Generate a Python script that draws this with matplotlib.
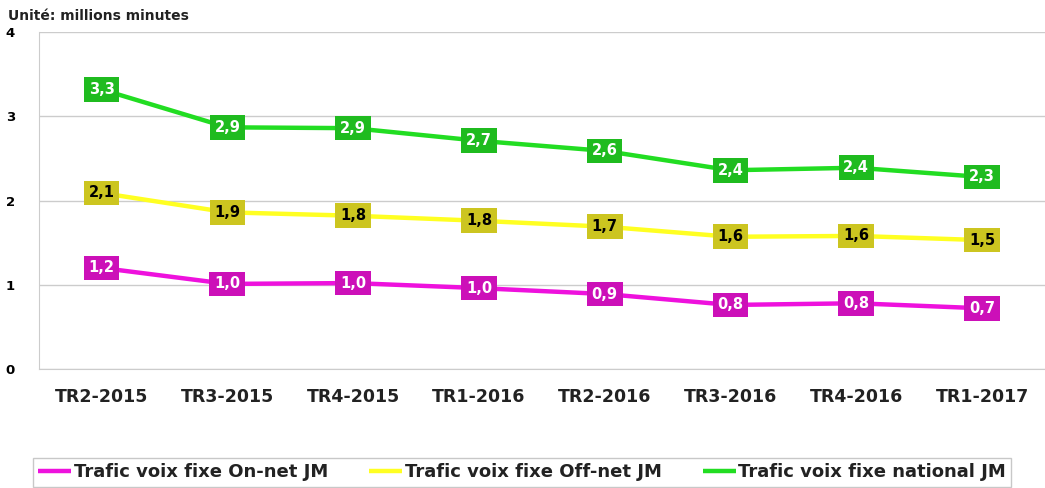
import matplotlib.pyplot as plt

# data
quarters = ['TR2-2015', 'TR3-2015', 'TR4-2015', 'TR1-2016',
            'TR2-2016', 'TR3-2016', 'TR4-2016', 'TR1-2017']
on_net = [1.20, 1.01, 1.02, 0.96, 0.89, 0.76, 0.78, 0.72]
off_net = [2.09, 1.86, 1.82, 1.76, 1.69, 1.57, 1.58, 1.53]
national = [3.32, 2.87, 2.86, 2.71, 2.59, 2.36, 2.39, 2.28]

series = [
    (on_net, 'Trafic voix fixe On-net JM', '#EE11DD', '#CC10B8', 'white'),
    (off_net, 'Trafic voix fixe Off-net JM', '#FFFF22', '#CCC520', 'black'),
    (national, 'Trafic voix fixe national JM', '#22DD22', '#1FBB1F', 'white'),
]

fig = plt.figure(figsize=(10.45, 4.88), dpi=100)
ax = fig.add_axes([0.037, 0.244, 0.963, 0.690])

x = range(len(quarters))
for vals, label, lc, bc, tc in series:
    ax.plot(x, vals, color=lc, lw=3.2, label=label, solid_capstyle='butt')
    for xi, v in zip(x, vals):
        ax.text(xi, v, f'{v:.1f}'.replace('.', ','), ha='center', va='center',
                fontsize=10.5, fontweight='bold', color=tc,
                bbox=dict(boxstyle='square,pad=0.33', fc=bc, ec='none'))

ax.set_xlim(-0.5, len(quarters) - 0.5)
ax.set_ylim(0, 4)
ax.set_yticks([0, 1, 2, 3, 4])
ax.set_xticks(list(x))
ax.set_xticklabels(quarters, fontsize=12.5, fontweight='bold', color='#222222')
ax.tick_params(axis='y', labelsize=9.5, length=0, pad=17)
ax.tick_params(axis='x', length=0, pad=14)
for t in ax.get_yticklabels():
    t.set_fontweight('bold')
ax.yaxis.grid(True, color='#CCCCCC', lw=1)
ax.set_axisbelow(True)
for s in ['top', 'right']:
    ax.spines[s].set_visible(False)
ax.spines['left'].set_color('#CCCCCC')
ax.spines['bottom'].set_color('#CCCCCC')

fig.text(0.008, 0.968, 'Unité: millions minutes', fontsize=10, fontweight='bold',
         ha='left', va='center', color='#222222')

leg = fig.legend(loc='upper left', bbox_to_anchor=(0.0316, 0.0615), ncol=3,
                 frameon=True, fancybox=False, edgecolor='#BBBBBB',
                 handlelength=1.8, handletextpad=0.15, columnspacing=2.3,
                 prop={'weight': 'bold', 'size': 13}, borderpad=0.3,
                 borderaxespad=0)
for t in leg.get_texts():
    t.set_color('#222222')

fig.savefig('out.png', dpi=100)
